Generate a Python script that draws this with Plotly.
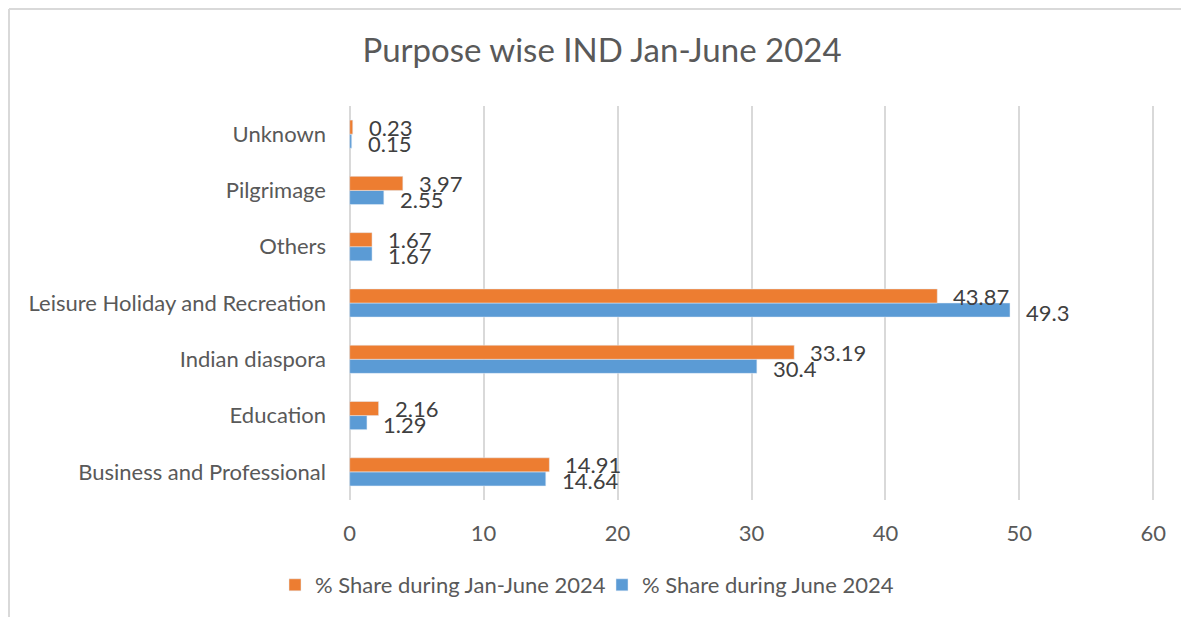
import plotly.graph_objects as go

categories = ["Business and Professional", "Education", "Indian diaspora",
              "Leisure Holiday and Recreation", "Others", "Pilgrimage", "Unknown"]
jan_june = [14.91, 2.16, 33.19, 43.87, 1.67, 3.97, 0.23]
june = [14.64, 1.29, 30.4, 49.3, 1.67, 2.55, 0.15]
jan_june_labels = ["14.91", "2.16", "33.19", "43.87", "1.67", "3.97", "0.23"]
june_labels = ["14.64", "1.29", "30.4", "49.3", "1.67", "2.55", "0.15"]

ORANGE = "#ED7D31"
BLUE = "#5B9BD5"
FONT = "Lato"

W, H = 1181, 609
L, R, T, B = 339, 33, 98, 117
PW, PH = W - L - R, H - T - B

fig = go.Figure()
fig.add_trace(go.Bar(y=categories, x=june, orientation="h", name="% Share during June 2024",
                     marker=dict(color=BLUE), legendrank=2))
fig.add_trace(go.Bar(y=categories, x=jan_june, orientation="h", name="% Share during Jan-June 2024",
                     marker=dict(color=ORANGE), legendrank=1))

annotations = []
for cat, v, t in zip(categories, jan_june, jan_june_labels):
    annotations.append(dict(x=v, y=cat, text=t, xanchor="left", yanchor="middle", showarrow=False,
                            xshift=14, yshift=7, font=dict(family=FONT, size=22, color="#404040")))
for cat, v, t in zip(categories, june, june_labels):
    annotations.append(dict(x=v, y=cat, text=t, xanchor="left", yanchor="middle", showarrow=False,
                            xshift=14, yshift=-9, font=dict(family=FONT, size=22, color="#404040")))

fig.update_layout(
    width=W, height=H,
    paper_bgcolor="white", plot_bgcolor="white",
    margin=dict(l=L, r=R, t=T, b=B),
    barmode="group", bargap=0.5, bargroupgap=0,
    title=dict(text="Purpose wise IND Jan-June 2024", x=0.503, xanchor="center",
               y=1 - 42 / H, yanchor="middle",
               font=dict(family=FONT, size=33, color="#595959")),
    font=dict(family=FONT, size=22, color="#595959"),
    xaxis=dict(range=[-0.2, 60.2], tickvals=[0, 10, 20, 30, 40, 50, 60], showgrid=True,
               gridcolor="#d9d9d9", gridwidth=1.5,
               zeroline=False, showline=False, ticklabelstandoff=18,
               tickfont=dict(family=FONT, size=22, color="#595959"), fixedrange=True),
    yaxis=dict(showgrid=False, zeroline=False, showline=False, ticklabelstandoff=20,
               tickfont=dict(family=FONT, size=22, color="#595959")),
    legend=dict(orientation="h", xref="container", yref="container", x=267 / W, xanchor="left",
                y=1 - 577 / H, yanchor="middle", font=dict(family=FONT, size=22, color="#595959"),
                itemwidth=30, entrywidth=282, entrywidthmode="pixels"),
    showlegend=True,
    annotations=annotations,
    shapes=[
        dict(type="line", xref="paper", yref="paper", x0=(1 - L) / PW, x1=(W + 10 - L) / PW,
             y0=(T + PH - 1) / PH, y1=(T + PH - 1) / PH, line=dict(color="#d9d9d9", width=2)),
        dict(type="line", xref="paper", yref="paper", x0=(1 - L) / PW, x1=(1 - L) / PW,
             y0=(T + PH - 1) / PH, y1=(T + PH - H - 10) / PH, line=dict(color="#d9d9d9", width=2)),
    ],
)

fig.write_html("out.html")
